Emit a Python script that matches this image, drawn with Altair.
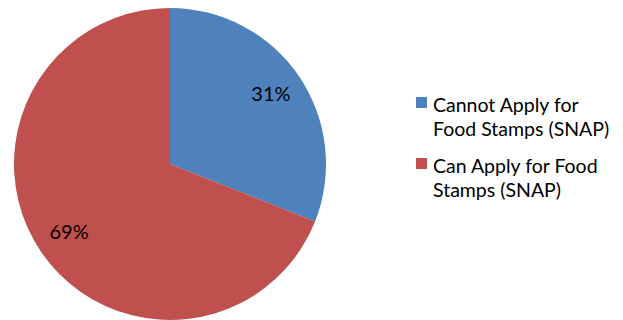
import altair as alt
import pandas as pd

categories = ["Cannot Apply for\nFood Stamps (SNAP)", "Can Apply for Food\nStamps (SNAP)"]
values = [31, 69]
labels = ["31%", "69%"]
colors = ["#4F81BD", "#C0504D"]
order = [0, 1]

df = pd.DataFrame({
    "category": categories,
    "value": values,
    "label": labels,
    "order": order,
    "text_lines": [c.split("\n") for c in categories],
})

FONT = "Lato"
color_scale = alt.Scale(domain=categories, range=colors)

base = alt.Chart(df).encode(
    theta=alt.Theta("value:Q", stack=True),
    order=alt.Order("order:Q"),
)

arc = base.mark_arc(outerRadius=156, stroke=None).encode(
    color=alt.Color("category:N", scale=color_scale, legend=None)
)

text = base.mark_text(radius=122, font=FONT, fontSize=20, color="#000000").encode(
    text="label:N"
)

pie = alt.layer(arc, text).properties(width=324, height=310)

# legend built as its own small view
leg_base = alt.Chart(df).encode(
    y=alt.Y("order:Q", axis=None, scale=alt.Scale(domain=[0, 1], range=[93.5, 154.5])),
)
leg_sq = leg_base.mark_square(size=121, opacity=1).encode(
    x=alt.value(8.5),
    color=alt.Color("category:N", scale=color_scale, legend=None),
)
leg_txt = leg_base.mark_text(
    align="left", baseline="alphabetic", dy=9, lineHeight=24,
    font=FONT, fontSize=19.5, color="#000000",
).encode(
    x=alt.value(20),
    text="text_lines",
)
legend = alt.layer(leg_sq, leg_txt).properties(width=150, height=310)

chart = (
    alt.hconcat(pie, legend, spacing=81)
    .properties(padding=0)
    .configure_view(stroke=None)
)

chart.save("out.html", embed_options={"renderer": "svg", "actions": False})
